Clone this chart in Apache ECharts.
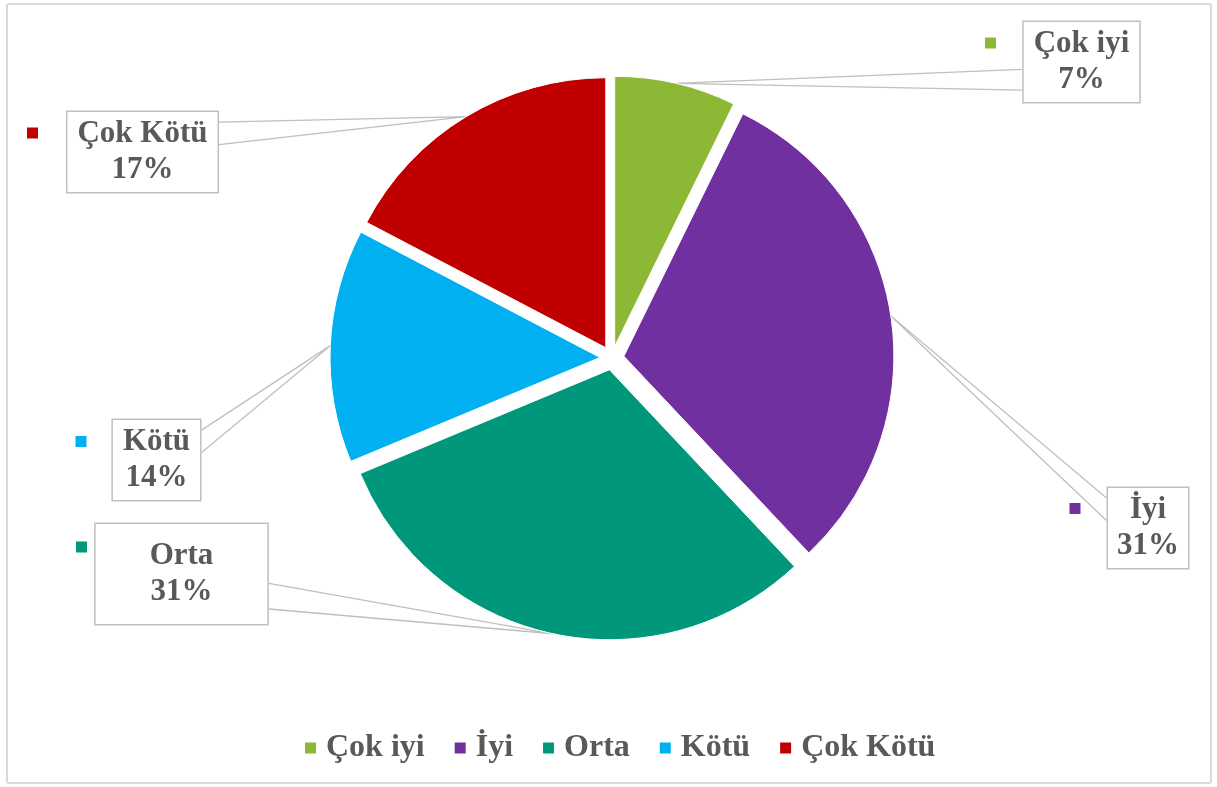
<!DOCTYPE html>
<html><head><meta charset="utf-8">
<script src="https://cdn.jsdelivr.net/npm/echarts@6/dist/echarts.min.js"></script>
<style>
html,body{margin:0;padding:0;background:#fff;}
#frame{position:absolute;left:6px;top:3px;width:1202px;height:777px;border:2px solid #d9d9d9;border-radius:3px;}
#chart{position:absolute;left:0;top:0;width:1217px;height:787px;}
</style></head>
<body><div id="frame"></div><div id="chart"></div>
<script>
// ---- data ----
const categories = ['Çok iyi', 'İyi', 'Orta', 'Kötü', 'Çok Kötü'];
const values = [13, 55, 55, 25, 31];
const colors = ['#8DB836', '#7030A0', '#00977A', '#00B0F0', '#C00000'];

// ---- layout (label boxes and legend keys placed as in the reference) ----
const labelCenters = [[1081.5, 62], [1148, 528], [181.5, 574], [156.5, 460], [142.5, 152]];
const labelPads = [[4, 10], [4, 9], [14, 54], [4, 10], [4, 10]];
const markerCenters = [[990.5, 43], [1075, 508.5], [81.5, 547], [81, 441.5], [32.5, 133]];

const FONT = 'Liberation Serif, Times New Roman, serif';
const TEXT = '#595959';
const CENTER = [612, 358], R = 270, OFFSET = 12;

const pieData = categories.map((n, i) => ({
  name: n, value: values[i], selected: true, itemStyle: { color: colors[i] }
}));
const labelData = categories.map((n, i) => ({
  name: n, value: values[i], label: { padding: labelPads[i] }
}));
const markerData = categories.map((n, i) => ({ name: n, value: values[i] }));
const markerRich = {};
colors.forEach((c, i) => { markerRich['m' + i] = { width: 11, height: 11, backgroundColor: c }; });

const chart = echarts.init(document.getElementById('chart'), null, { renderer: 'canvas' });
chart.setOption({
  animation: false,
  legend: {
    data: categories,
    top: 727, left: 300,
    icon: 'rect', itemWidth: 11, itemHeight: 11, itemGap: 30,
    selectedMode: false,
    itemStyle: { borderWidth: 0 },
    textStyle: { fontFamily: FONT, fontWeight: 'bold', fontSize: 32, color: TEXT, padding: [0, 0, 0, 5] }
  },
  series: [{
    // visible exploded pie
    type: 'pie',
    center: CENTER, radius: R,
    startAngle: 90, clockwise: true,
    selectedMode: 'multiple', selectedOffset: OFFSET,
    itemStyle: { borderColor: '#fff', borderWidth: 1 },
    emphasis: { disabled: true },
    label: { show: false }, labelLine: { show: false },
    data: pieData
  }, {
    // label boxes with leader lines, anchored on the exploded arc
    type: 'pie',
    center: CENTER, radius: R + OFFSET,
    startAngle: 90, clockwise: true, silent: true,
    avoidLabelOverlap: false,
    itemStyle: { color: 'rgba(0,0,0,0)', borderWidth: 0 },
    emphasis: { disabled: true },
    label: {
      show: true, position: 'outside',
      formatter: p => p.name + '\n' + Math.round(p.percent) + '%',
      fontFamily: FONT, fontWeight: 'bold', fontSize: 31, lineHeight: 36, color: TEXT,
      align: 'center',
      backgroundColor: '#fff', borderColor: '#BFBFBF', borderWidth: 1.5
    },
    labelLine: { show: true, length: 10, length2: 10, lineStyle: { color: '#BFBFBF', width: 1.3 } },
    labelLayout: p => {
      const c = labelCenters[p.dataIndex];
      const w = p.labelRect.width, h = p.labelRect.height;
      const arc = p.labelLinePoints[0];
      const ex = arc[0] < c[0] ? c[0] - w / 2 : c[0] + w / 2;
      const top = c[1] - h / 2;
      const fr = arc[1] < c[1] ? [0.14, 0.41] : [0.59, 0.84];
      return {
        x: c[0], y: c[1], align: 'center', verticalAlign: 'middle',
        labelLinePoints: [[ex, top + fr[0] * h], [arc[0], arc[1]], [ex, top + fr[1] * h]]
      };
    },
    data: labelData
  }, {
    // legend keys next to the label boxes
    type: 'pie',
    center: CENTER, radius: R,
    startAngle: 90, silent: true,
    avoidLabelOverlap: false,
    itemStyle: { color: 'rgba(0,0,0,0)', borderWidth: 0 },
    emphasis: { disabled: true },
    label: { show: true, position: 'outside', formatter: p => '{m' + p.dataIndex + '| }', rich: markerRich },
    labelLine: { show: false },
    labelLayout: p => {
      const c = markerCenters[p.dataIndex];
      return { x: c[0], y: c[1], align: 'center', verticalAlign: 'middle' };
    },
    data: markerData
  }]
});
</script></body></html>
